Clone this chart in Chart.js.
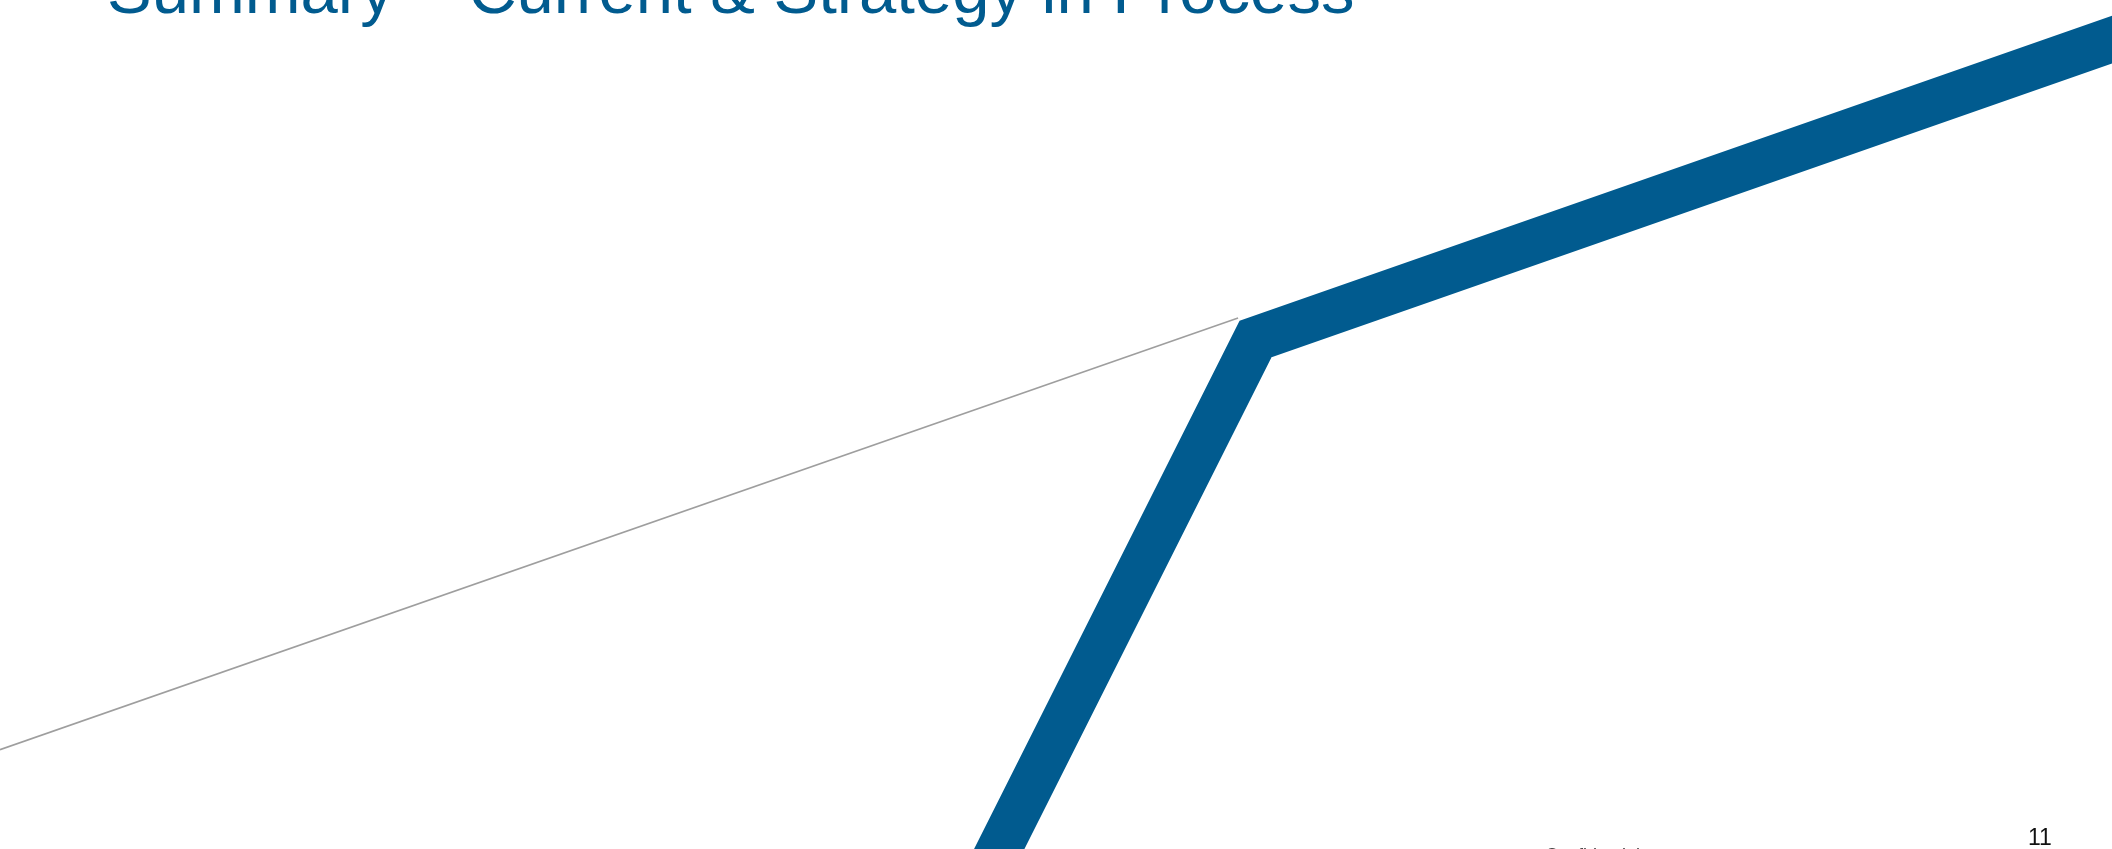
<!DOCTYPE html>
<html>
<head>
<meta charset="utf-8">
<title>Summary – Current &amp; Strategy in Process</title>
<script src="https://cdn.jsdelivr.net/npm/chart.js@4/dist/chart.umd.min.js"></script>
<style>
  html, body { margin: 0; padding: 0; background: #fff; overflow: hidden; }
  #stage { position: relative; width: 2112px; height: 849px; overflow: hidden; }
  #chart-wrap { position: absolute; left: 0; top: 0; width: 2112px; height: 849px; }
  .slide-title {
    position: absolute; left: 107px; top: -44px; margin: 0;
    font: 67px/67px "Liberation Sans", Arial, sans-serif; color: #015b8f;
    white-space: nowrap; font-weight: normal;
  }
  .page-no {
    position: absolute; left: 2028px; top: 826px;
    font: 23px/23px "Liberation Sans", Arial, sans-serif; color: #111;
  }
  .footer {
    position: absolute; left: 1545px; top: 846px;
    font: 18px/18px "Liberation Sans", Arial, sans-serif; color: #444;
  }
</style>
</head>
<body>
<div id="stage">
  <div id="chart-wrap"><canvas id="chart-canvas"></canvas></div>
  <h1 class="slide-title">Summary – Current &amp; Strategy in Process</h1>
  <div class="footer">Confidential</div>
  <div class="page-no">11</div>
</div>
<script>
// both axes run 0..100 and are hidden; the plot fills the whole slide
const currentX  = [0, 58.62];
const currentY  = [11.7, 62.54];

const strategyX = [46.1, 59.45, 104.2];
const strategyY = [-6.0, 60.07, 98.98];

const COLORS = { current: '#9e9e9e', strategy: '#015b8f' };

function _pts(xs, ys) {
    return xs.map((x, i) => ({ x, y: ys[i] }));
}

const datasets = [
    {
        label: 'Strategy in Process',
        data: _pts(strategyX, strategyY),
        borderColor: COLORS.strategy, backgroundColor: 'transparent',
        borderWidth: 45, borderJoinStyle: 'miter', borderCapStyle: 'butt',
        tension: 0, clip: false, order: 0,
    },
    {
        label: 'Current',
        data: _pts(currentX, currentY),
        borderColor: COLORS.current, backgroundColor: 'transparent',
        borderWidth: 1.5, tension: 0, clip: false, order: 1,
    },
];

new Chart(document.getElementById('chart-canvas'), {
    type: 'line',
    data: { datasets },
    options: {
        animation: false,
        responsive: true, maintainAspectRatio: false,
        layout: { padding: 0 },
        elements: { point: { radius: 0, hoverRadius: 0 } },
        plugins: { legend: { display: false }, tooltip: { enabled: false } },
        events: [],
        scales: {
            x: { type: 'linear', min: 0, max: 100, display: false },
            y: { type: 'linear', min: 0, max: 100, display: false },
        },
    },
});
</script>
</body>
</html>
